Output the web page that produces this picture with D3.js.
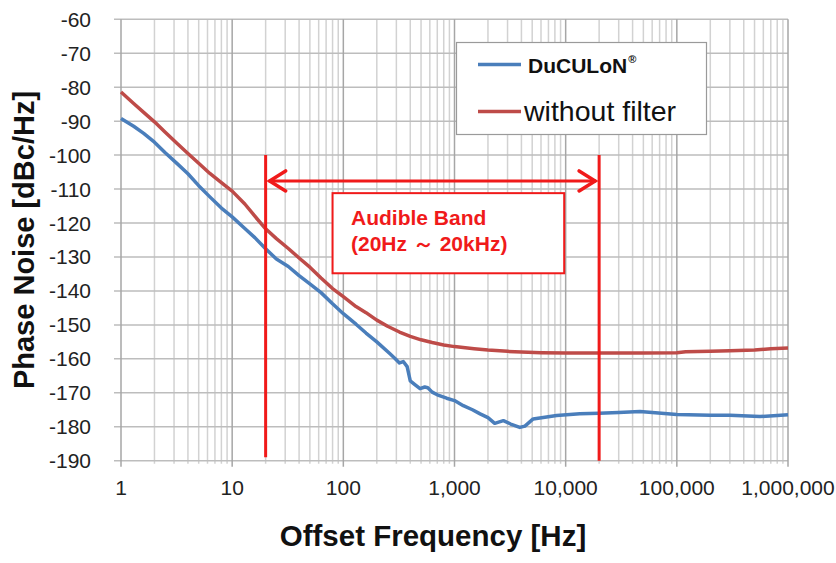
<!DOCTYPE html>
<html>
<head>
<meta charset="utf-8">
<script src="https://cdn.jsdelivr.net/npm/d3@7"></script>
<style>
  body { margin: 0; background: #fff; }
  svg { display: block; }
</style>
</head>
<body>
<div id="chart"></div>
<script>
// DuCULoN phase noise curve
const freqDuculon = [1, 1.3, 1.6, 2, 2.5, 3.2, 4, 5, 6.3, 8, 10, 13, 16, 20, 25, 32, 40, 50, 63, 80,
    100, 130, 160, 200, 263, 290, 320, 346, 375, 400, 440, 490, 540, 575, 630, 700, 850, 1000,
    1200, 1450, 1700, 2000, 2300, 2750, 3200, 3870, 4300, 5100, 6500, 8300, 13400, 20000, 30000,
    46600, 60000, 100000, 200000, 300000, 560000, 800000, 1000000];
const noiseDuculon = [-89.2, -91.5, -93.6, -96.2, -99.3, -102.5, -105.5, -109, -112.3, -115.6,
    -118.2, -121.6, -124.3, -127.6, -130.6, -132.8, -135.5, -137.9, -140.5, -143.8,
    -146.7, -149.8, -152.4, -155, -158.5, -159.8, -161.2, -160.8, -162.3, -166.5, -167.6, -168.8, -168.3, -168.5, -169.8, -170.6, -171.6, -172.3,
    -173.8, -175, -176.2, -177.3, -179, -178.2, -179.2, -180.2, -179.8, -177.7, -177.2, -176.7, -176.2, -176, -175.8,
    -175.5, -175.8, -176.4, -176.6, -176.6, -177, -176.7, -176.5];
// without filter curve
const freqNoFilter = [1, 1.3, 1.6, 2, 2.5, 3.2, 4, 5, 6.3, 8, 10, 13, 16, 20, 25, 32, 40, 50, 63, 80,
    100, 130, 160, 200, 250, 320, 400, 500, 630, 800, 1000, 1500, 2000, 3000, 4000, 6000, 10000,
    20000, 50000, 100000, 120000, 200000, 300000, 500000, 700000, 1000000];
const noiseNoFilter = [-81.4, -84.8, -87.4, -90.2, -93.3, -96.6, -99.5, -102.4, -105.4, -108.1,
    -110.6, -114.4, -118, -121.7, -124.6, -127.5, -130.3, -133, -136.2, -139.3,
    -141.7, -144.6, -146.4, -148.6, -150.4, -152.1, -153.4, -154.4, -155.2, -155.9, -156.4, -157, -157.4, -157.8, -158, -158.2, -158.3,
    -158.3, -158.3, -158.2, -157.9, -157.8, -157.6, -157.4, -157, -156.8];
const seriesNames = ["DuCULoN", "without filter"];
const seriesColors = ["#4a7ebb", "#be4b48"];
const xTickValues = [1, 10, 100, 1000, 10000, 100000, 1000000];
const yTickValues = [-190, -180, -170, -160, -150, -140, -130, -120, -110, -100, -90, -80, -70, -60];
// audible band annotation (Hz / dBc)
const bandLow = 20, bandHigh = 20000, bandTop = -100, bandBottoms = [-189, -190];
const arrowLevel = -107.6;
const bandLabel = ["Audible Band", "(20Hz \uFF5E 20kHz)"];

const width = 836, height = 563;
const margin = { top: 19.3, left: 121, right: 48, bottom: 102.3 };
const plotW = width - margin.left - margin.right;
const plotH = height - margin.top - margin.bottom;

const svg = d3.select("#chart").append("svg")
    .attr("width", width)
    .attr("height", height)
    .style("font-family", "'Liberation Sans', Arial, sans-serif");

const x = d3.scaleLog().domain([1, 1e6]).range([margin.left, margin.left + plotW]);
const y = d3.scaleLinear().domain([-190, -60]).range([margin.top + plotH, margin.top]);

// grid - minor verticals first, then majors
const allTicks = x.ticks();
svg.append("g").selectAll("line")
    .data(allTicks.filter(d => !xTickValues.includes(d)))
    .join("line")
    .attr("x1", d => x(d)).attr("x2", d => x(d))
    .attr("y1", y(-60)).attr("y2", y(-190) + 3)
    .attr("stroke", "#d2d2d2").attr("stroke-width", 1.5);
svg.append("g").selectAll("line")
    .data(yTickValues)
    .join("line")
    .attr("x1", margin.left - 7).attr("x2", x(1e6))
    .attr("y1", d => y(d)).attr("y2", d => y(d))
    .attr("stroke", "#bdbdbd").attr("stroke-width", 1.5);
svg.append("g").selectAll("line")
    .data(xTickValues)
    .join("line")
    .attr("x1", d => x(d)).attr("x2", d => x(d))
    .attr("y1", y(-60)).attr("y2", y(-190) + 6)
    .attr("stroke", "#a6a6a6").attr("stroke-width", 1.5);

// axis labels
svg.append("g").selectAll("text")
    .data(yTickValues)
    .join("text")
    .attr("x", 91)
    .attr("y", d => y(d) + 7.5)
    .attr("text-anchor", "end")
    .attr("font-size", "21px")
    .attr("fill", "#222")
    .text(d => d);
svg.append("g").selectAll("text")
    .data(xTickValues)
    .join("text")
    .attr("x", d => x(d))
    .attr("y", 495)
    .attr("text-anchor", "middle")
    .attr("font-size", "21px")
    .attr("fill", "#222")
    .text(d => d3.format(",")(d));

// titles
svg.append("text")
    .attr("transform", "translate(34,240) rotate(-90)")
    .attr("text-anchor", "middle")
    .attr("font-size", "29px")
    .attr("font-weight", "bold")
    .attr("fill", "#111")
    .text("Phase Noise [dBc/Hz]");
svg.append("text")
    .attr("x", 433)
    .attr("y", 546)
    .attr("text-anchor", "middle")
    .attr("font-size", "29.5px")
    .attr("font-weight", "bold")
    .attr("fill", "#111")
    .text("Offset Frequency [Hz]");

// curves
const line = d3.line().x(d => x(d[0])).y(d => y(d[1]));
const series = [
    d3.zip(freqDuculon, noiseDuculon),
    d3.zip(freqNoFilter, noiseNoFilter)
];
svg.append("g").selectAll("path")
    .data(series)
    .join("path")
    .attr("d", line)
    .attr("fill", "none")
    .attr("stroke", (d, i) => seriesColors[i])
    .attr("stroke-width", 3.5)
    .attr("stroke-linejoin", "round");

// audible band markers
const red = "#f01a1a";
const band = svg.append("g");
band.selectAll("line.edge")
    .data([bandLow, bandHigh])
    .join("line")
    .attr("class", "edge")
    .attr("x1", d => x(d)).attr("x2", d => x(d))
    .attr("y1", y(bandTop))
    .attr("y2", (d, i) => y(bandBottoms[i]))
    .attr("stroke", red).attr("stroke-width", 3);
const ax1 = x(bandLow) + 3, ax2 = x(bandHigh) - 3, ay = y(arrowLevel);
band.append("line")
    .attr("x1", ax1).attr("x2", ax2).attr("y1", ay).attr("y2", ay)
    .attr("stroke", red).attr("stroke-width", 3);
band.append("path")
    .attr("d", `M${ax1 + 17},${ay - 10} L${ax1 + 1},${ay} L${ax1 + 17},${ay + 10}`
        + ` M${ax2 - 17},${ay - 10} L${ax2 - 1},${ay} L${ax2 - 17},${ay + 10}`)
    .attr("fill", "none").attr("stroke", red).attr("stroke-width", 3.5)
    .attr("stroke-linecap", "round");
band.append("rect")
    .attr("x", x(80)).attr("y", y(-111.2))
    .attr("width", x(9700) - x(80))
    .attr("height", y(-134.8) - y(-111.2))
    .attr("fill", "#fff")
    .attr("stroke", red).attr("stroke-width", 2);
band.selectAll("text")
    .data(bandLabel)
    .join("text")
    .attr("x", 351)
    .attr("y", (d, i) => 225 + i * 26)
    .attr("font-size", "21px")
    .attr("font-weight", "bold")
    .attr("fill", red)
    .text(d => d);

// legend
const legend = svg.append("g").attr("class", "legend");
legend.append("rect")
    .attr("x", 456.5).attr("y", 42.5)
    .attr("width", 250).attr("height", 92)
    .attr("fill", "#fff")
    .attr("stroke", "#9a9a9a").attr("stroke-width", 1.2);
const legendItem = legend.selectAll(".legend-item")
    .data(seriesNames)
    .join("g")
    .attr("class", "legend-item")
    .attr("transform", (d, i) => `translate(478,${64.5 + i * 47})`);
legendItem.append("line")
    .attr("x1", 0).attr("x2", 43)
    .attr("stroke", (d, i) => seriesColors[i])
    .attr("stroke-width", 3.5);
legendItem.append("text")
    .attr("x", (d, i) => i === 0 ? 50 : 46)
    .attr("y", (d, i) => i === 0 ? 8.5 : 9)
    .attr("font-size", (d, i) => i === 0 ? "21px" : "28.5px")
    .attr("font-weight", (d, i) => i === 0 ? "bold" : "normal")
    .attr("fill", "#111")
    .text(d => d)
    .filter((d, i) => i === 0)
    .append("tspan")
    .attr("dy", -10)
    .attr("dx", 1)
    .attr("font-size", "11px")
    .text("\u00AE");
</script>
</body>
</html>
